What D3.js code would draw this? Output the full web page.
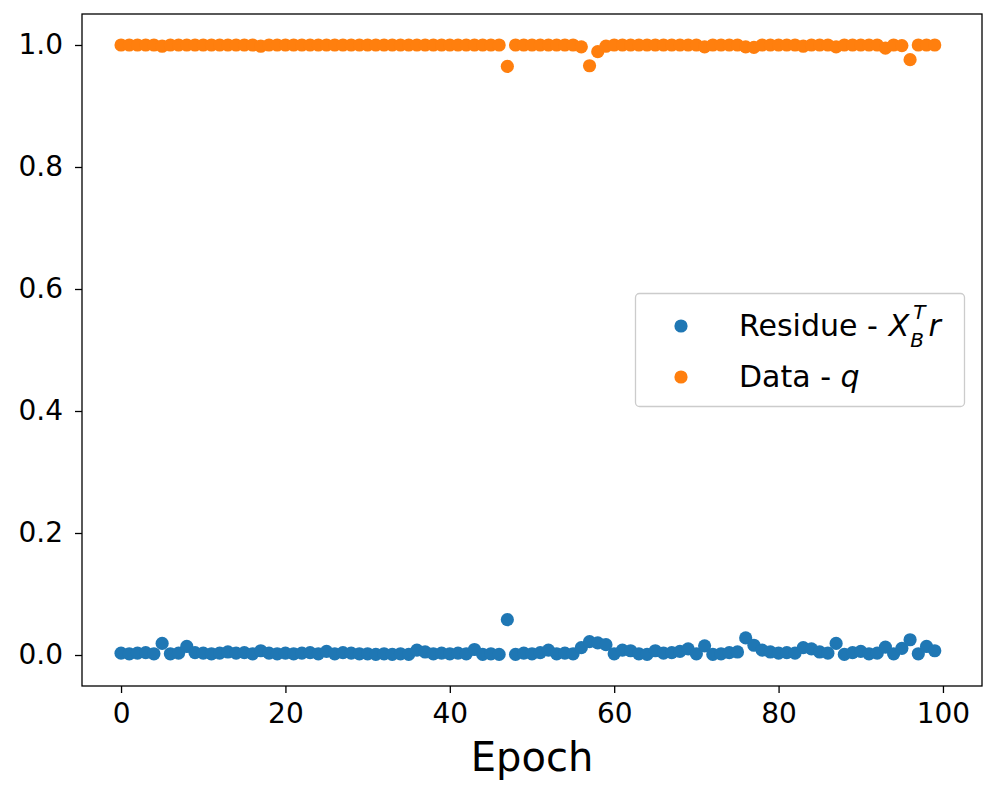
<!DOCTYPE html>
<html><head><meta charset="utf-8">
<script src="https://cdn.jsdelivr.net/npm/d3@7"></script>
<style>body{margin:0;background:#fff}svg{display:block}text{font-family:"DejaVu Sans",sans-serif}</style>
</head><body><svg id="c" width="996" height="793"></svg>
<script>
const epochs = d3.range(0, 100);
const residue = [0.003,0.002,0.003,0.004,0.002,0.019,0.002,0.003,0.014,0.004,
0.003,0.002,0.003,0.005,0.003,0.004,0.002,0.007,0.003,0.002,
0.003,0.002,0.003,0.004,0.002,0.006,0.002,0.004,0.003,0.002,
0.002,0.001,0.002,0.001,0.002,0.001,0.008,0.005,0.002,0.003,
0.002,0.003,0.002,0.009,0.001,0.002,0.001,0.058,0.001,0.003,
0.002,0.004,0.008,0.002,0.003,0.002,0.012,0.022,0.020,0.017,
0.002,0.008,0.007,0.002,0.001,0.007,0.003,0.004,0.006,0.010,
0.002,0.015,0.001,0.002,0.004,0.005,0.028,0.016,0.008,0.005,
0.003,0.004,0.003,0.012,0.010,0.005,0.003,0.019,0.001,0.004,
0.006,0.002,0.003,0.013,0.002,0.011,0.025,0.002,0.014,0.007];
const dataQ = [1,1,1,1,1,0.998,1,1,1,1,
1,1,1,1,1,1,1,0.998,1,1,
1,1,1,1,1,1,1,1,1,1,
1,1,1,1,1,1,1,1,1,1,
1,1,1,1,1,1,1,0.965,1,1,
1,1,1,1,1,1,0.997,0.966,0.989,0.998,
1,1,1,1,1,1,1,1,1,1,
1,0.997,1,1,1,1,0.997,0.996,1,1,
1,1,1,0.998,1,1,1,0.997,1,1,
1,1,1,0.995,1,0.999,0.976,1,1,1];
const xTicks = [0,20,40,60,80,100];
const yTicks = [0,0.2,0.4,0.6,0.8,1.0];
const seriesNames = ["Residue -", "Data - "];
const colors = ["#1f77b4", "#ff7f0e"];

const L=82,R=982,T=14,B=686;
const svg = d3.select("#c");
const x = d3.scaleLinear().domain([-4.75,104.75]).range([L,R]);
const y = d3.scaleLinear().domain([-0.0508,1.0508]).range([B,T]);

const g = svg.append("g");
[[residue,colors[0]],[dataQ,colors[1]]].forEach(([vals,col])=>{
  g.selectAll(null).data(vals).enter().append("circle")
   .attr("cx",(d,i)=>x(epochs[i])).attr("cy",d=>y(d)).attr("r",6.6).attr("fill",col);
});

const xa = svg.append("g").attr("transform",`translate(0,${B})`)
  .call(d3.axisBottom(x).tickValues(xTicks).tickSize(7).tickPadding(8).tickFormat(d3.format("d")));
const ya = svg.append("g").attr("transform",`translate(${L},0)`)
  .call(d3.axisLeft(y).tickValues(yTicks).tickSize(7).tickPadding(12).tickFormat(d3.format(".1f")));
[xa,ya].forEach(a=>{a.select(".domain").remove();a.selectAll("line").attr("stroke","#000").attr("stroke-width",1.3);
  a.selectAll("text").attr("font-size",28).attr("fill","#000").attr("font-family","DejaVu Sans");});
xa.selectAll("text").attr("dy","0.8em");

svg.append("rect").attr("x",L).attr("y",T).attr("width",R-L).attr("height",B-T)
  .attr("fill","none").attr("stroke","#000").attr("stroke-width",1.3);

svg.append("text").attr("x",(L+R)/2).attr("y",771).attr("text-anchor","middle")
  .attr("font-size",40).text("Epoch");

// legend
const lg = svg.append("g");
lg.append("rect").attr("x",635.5).attr("y",293.5).attr("width",329).attr("height",113).attr("rx",4)
  .attr("fill","#fff").attr("fill-opacity",0.8).attr("stroke","#ccc").attr("stroke-width",1.3);
const rows=[326,377];
rows.forEach((yy,i)=>{
  lg.append("circle").attr("cx",681).attr("cy",yy).attr("r",6.6).attr("fill",colors[i]);
});
const fs=30;
const t1 = lg.append("text").attr("x",739).attr("y",rows[0]+10).attr("font-size",fs).text(seriesNames[0]);
const w1 = t1.node().getComputedTextLength();
const xX = 739 + w1 + 11;
const tX = lg.append("text").attr("x",xX).attr("y",rows[0]+10).attr("font-size",fs).attr("font-style","italic").text("X");
const xEnd = xX + tX.node().getComputedTextLength();
const tB = lg.append("text").attr("x",xEnd+1).attr("y",rows[0]+21).attr("font-size",20).attr("font-style","italic").text("B");
const tT = lg.append("text").attr("x",xEnd+4).attr("y",rows[0]-7).attr("font-size",20).attr("font-style","italic").text("T");
const scriptEnd = Math.max(xEnd+1+tB.node().getComputedTextLength(), xEnd+4+tT.node().getComputedTextLength());
lg.append("text").attr("x",scriptEnd+3).attr("y",rows[0]+10).attr("font-size",fs).attr("font-style","italic").text("r");
const t2 = lg.append("text").attr("x",739).attr("y",rows[1]+10).attr("font-size",fs);
t2.append("tspan").text(seriesNames[1]);
t2.append("tspan").attr("font-style","italic").text("q");
</script></body></html>
